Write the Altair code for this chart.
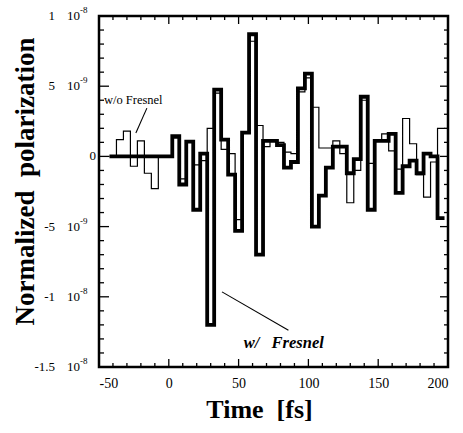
import altair as alt
import pandas as pd

# ---------------- data (values in units of 1e-9) ----------------
time_fs = list(range(-40, 200, 5))  # bin centres [fs]
w_fresnel_e9 = [0, 0, 0, 0, 0, 0, 0, 0, 0,
                1.45, -2.0, 1.05, -3.8, 0.2,
                -12.0, 4.75, 1.2, -1.3, -5.3,
                1.7, 8.7, -7.0, 1.1, 1.1,
                0.8, -0.8, -0.4, 4.85, 5.9,
                -5.0, -2.8, -0.8, 0.7, 0.7,
                -1.2, -0.2, 4.25, -3.8, 1.1,
                1.1, 1.6, -2.6, -0.7, -0.3,
                -1.2, 0.2, 0.0, -4.4]
wo_fresnel_e9 = [0, 1.2, 1.8, -0.7, 1.1, -1.2, -2.3, 0, 0,
                 1.3, -1.6, 1.0, -0.6, -0.3,
                 2.0, 4.5, 0.5, 0.2, -4.5,
                 1.7, 8.2, 2.2, 0.7, 1.2,
                 1.0, 0.3, 0.2, 4.6, 5.6,
                 3.5, 0.6, 0.6, 1.1, 0.2,
                 -3.3, -1.0, 4.0, -0.5, 1.2,
                 1.6, 0.4, -0.9, 2.7, 0.9,
                 -1.3, -2.9, -0.4, 2.0]
bin_width = 5

x_major_ticks = [-50, 0, 50, 100, 150, 200]
x_minor_ticks = [k for k in range(-50, 201, 10) if k % 50 != 0]
y_major_ticks = [-1.5e-8, -1e-8, -5e-9, 0, 5e-9, 1e-8]
y_minor_ticks = [k * 1e-9 for k in range(-15, 11) if k % 5 != 0]

y_label_vals = [1e-8, 5e-9, -5e-9, -1e-8, -1.5e-8]
y_label_mant = ["1", "5", "-5", "-1", "-1.5"]
y_label_exp = ["-8", "-9", "-9", "-8", "-8"]

NB = "\u00a0"
ann_text = ["w/o Fresnel", "w/" + NB * 3 + "Fresnel"]
ann_t = [-46.5, 53.6]
ann_v = [3.7e-9, -1.366e-8]
lead_t1 = [-15.7, 38.1]
lead_v1 = [3.44e-9, -9.65e-9]
lead_t2 = [-23.6, 85.7]
lead_v2 = [1.66e-9, -12.38e-9]

FONT = "Liberation Serif"
W, H = 349, 351


def step_frame(vals):
    edges = [c - bin_width / 2 for c in time_fs] + [time_fs[-1] + bin_width / 2]
    v = [x * 1e-9 for x in vals] + [vals[-1] * 1e-9]
    return pd.DataFrame({"t": edges, "v": v})


xs = alt.Scale(domain=[-50, 200], nice=False, zero=False)
ys = alt.Scale(domain=[-1.5e-8, 1e-8], nice=False, zero=False)

x_axis = alt.Axis(values=x_major_ticks, labelExpr="'' + datum.value", labelFont=FONT,
                  labelFontSize=14, labelColor="black", labelPadding=9, ticks=False,
                  domain=False, grid=False, title="Time" + NB * 2 + "[fs]", titleFont=FONT,
                  titleFontSize=26, titleFontWeight="bold", titleColor="black",
                  titleX=160, titleY=50, titleBaseline="alphabetic", titleAlign="center")
y_axis = alt.Axis(labels=False, ticks=False, domain=False, grid=False,
                  title="Normalized" + NB * 2 + "polarization", titleFont=FONT, titleFontSize=27,
                  titleFontWeight="bold", titleColor="black", titleX=-66, titleY=165,
                  titleAngle=270, titleBaseline="alphabetic", titleAlign="center")


def X(field):
    return alt.X(field, scale=xs, axis=x_axis)


def Y(field):
    return alt.Y(field, scale=ys, axis=y_axis)


thin = alt.Chart(step_frame(wo_fresnel_e9)).mark_line(
    interpolate="step-after", color="black", strokeWidth=1.2, clip=True
).encode(x=X("t:Q"), y=Y("v:Q"))

thick = alt.Chart(step_frame(w_fresnel_e9)).mark_line(
    interpolate="step-after", color="black", strokeWidth=3.8, clip=True
).encode(x=X("t:Q"), y=Y("v:Q"))


def vticks(vals, y0, y1):
    return alt.Chart(pd.DataFrame({"t": vals})).mark_rule(color="black", strokeWidth=1.3).encode(
        x=X("t:Q"), y=alt.value(y0), y2=alt.value(y1))


def hticks(vals, x0, x1):
    return alt.Chart(pd.DataFrame({"v": vals})).mark_rule(color="black", strokeWidth=1.3).encode(
        y=Y("v:Q"), x=alt.value(x0), x2=alt.value(x1))


ticks = [
    vticks(x_major_ticks, H, H - 8), vticks(x_minor_ticks, H, H - 4),
    vticks(x_major_ticks, 0, 8), vticks(x_minor_ticks, 0, 4),
    hticks(y_major_ticks, 0, 10), hticks(y_minor_ticks, 0, 5),
    hticks(y_major_ticks, W, W - 8), hticks(y_minor_ticks, W, W - 4),
]

ylab_df = pd.DataFrame({"v": y_label_vals, "m": y_label_mant, "e": y_label_exp})
ylab_m = alt.Chart(ylab_df).mark_text(align="right", baseline="middle", font=FONT,
                                      fontSize=13, color="black").encode(
    y=Y("v:Q"), x=alt.value(-44), text="m:N")
ylab_10 = alt.Chart(ylab_df).mark_text(align="left", baseline="middle", font=FONT,
                                       fontSize=13, color="black").encode(
    y=Y("v:Q"), x=alt.value(-32), text=alt.value("10"))
ylab_e = alt.Chart(ylab_df).mark_text(align="left", baseline="middle", font=FONT,
                                      fontSize=9, color="black", dy=-6).encode(
    y=Y("v:Q"), x=alt.value(-19), text="e:N")
ylab_0 = alt.Chart(pd.DataFrame({"v": [0], "m": ["0"]})).mark_text(
    align="right", baseline="middle", font=FONT, fontSize=13, color="black").encode(
    y=Y("v:Q"), x=alt.value(-3), text="m:N")

ann_df = pd.DataFrame({"t": ann_t, "v": ann_v, "s": ann_text})
ann_wo = alt.Chart(ann_df.iloc[[0]]).mark_text(align="left", baseline="alphabetic", font=FONT,
                                               fontSize=12.5, color="black").encode(
    x=X("t:Q"), y=Y("v:Q"), text="s:N")
ann_w = alt.Chart(ann_df.iloc[[1]]).mark_text(align="left", baseline="alphabetic", font=FONT,
                                              fontSize=16.5, fontWeight="bold", fontStyle="italic",
                                              color="black").encode(
    x=X("t:Q"), y=Y("v:Q"), text="s:N")
lead_df = pd.DataFrame({"t1": lead_t1, "v1": lead_v1, "t2": lead_t2, "v2": lead_v2})
leads = alt.Chart(lead_df).mark_rule(color="black", strokeWidth=1.1).encode(
    x=X("t1:Q"), x2="t2:Q", y=Y("v1:Q"), y2="v2:Q")

chart = alt.layer(thin, thick, *ticks, ylab_m, ylab_10, ylab_e, ylab_0,
                  ann_wo, ann_w, leads).properties(
    width=W, height=H,
    padding={"left": 99, "top": 16, "right": 15, "bottom": 66},
    autosize=alt.AutoSizeParams(type="none"),
    background="white",
).configure_view(stroke="black", strokeWidth=2.5)

chart.save("out.html", embed_options={"renderer": "svg", "actions": False})
